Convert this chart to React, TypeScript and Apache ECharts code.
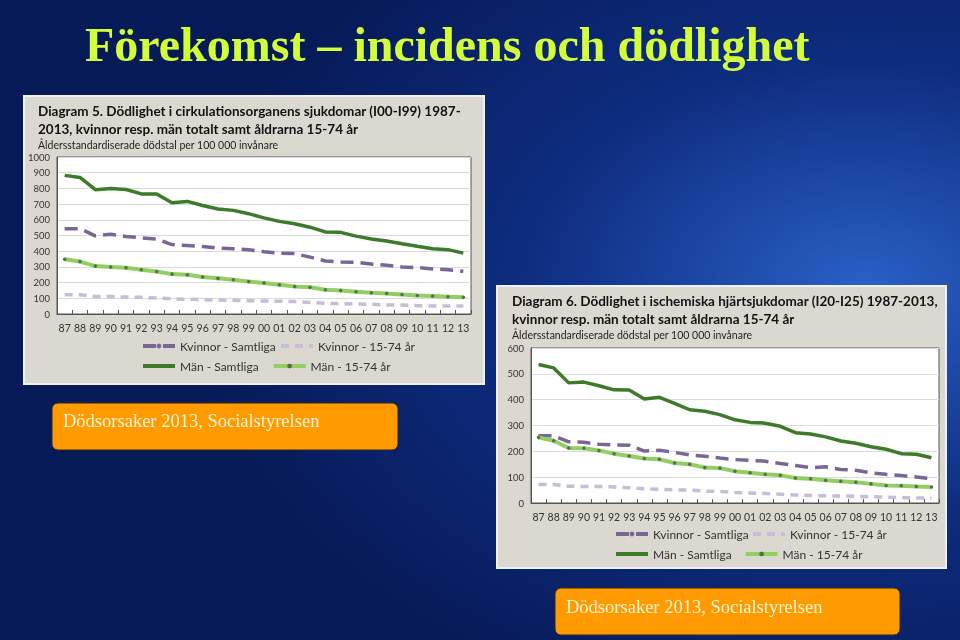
import React, { useEffect, useRef } from "react";
import * as echarts from "echarts";

const years = ["87","88","89","90","91","92","93","94","95","96","97","98","99","00","01","02","03","04","05","06","07","08","09","10","11","12","13"];

// Diagram 5 – cirkulationsorganens sjukdomar
const d5KvinnorSamtliga = [543,543,498,508,494,485,477,442,436,430,420,415,409,397,388,385,362,338,332,330,318,311,299,296,287,282,272];
const d5Kvinnor1574 = [123,123,111,111,108,106,102,96,94,91,89,87,85,83,81,79,74,68,66,64,62,58,57,53,51,51,51];
const d5ManSamtliga = [883,870,792,800,793,765,764,708,717,691,669,660,639,612,590,575,553,523,520,496,478,465,447,431,416,410,388];
const d5Man1574 = [349,334,305,300,294,282,271,254,250,236,227,218,207,197,186,175,171,155,149,142,135,131,124,118,114,110,106];

// Diagram 6 – ischemiska hjärtsjukdomar
const d6KvinnorSamtliga = [260,260,237,235,227,225,224,201,204,196,186,181,174,168,165,162,153,145,137,140,130,127,117,111,106,101,94];
const d6Kvinnor1574 = [72,72,65,64,64,62,59,55,53,51,50,46,45,41,39,37,34,31,29,28,27,26,24,23,21,19,19];
const d6ManSamtliga = [536,523,465,468,454,438,437,403,409,386,361,355,342,322,312,309,297,272,267,256,240,231,218,208,191,189,175];
const d6Man1574 = [254,241,213,212,203,191,182,172,169,155,150,137,135,123,117,111,107,97,94,88,84,80,74,68,67,64,62];

const d5Ticks = { min: 0, max: 1000, interval: 100 };
const d6Ticks = { min: 0, max: 600, interval: 100 };

const NAME_KS = "Kvinnor - Samtliga";
const NAME_K15 = "Kvinnor - 15-74 år";
const NAME_MS = "Män - Samtliga";
const NAME_M15 = "Män - 15-74 år";

const C_KS = "#7a6595";
const C_K15 = "#c9bcd9";
const C_MS = "#3d7a2a";
const C_M15 = "#92cf62";

const FONT = "Lato, 'Noto Sans', sans-serif";

function seriesFor(idx: number, ks: number[], k15: number[], ms: number[], m15: number[]) {
  return [
    { name: NAME_KS, type: "line", xAxisIndex: idx, yAxisIndex: idx, data: ks, symbol: "none", lineStyle: { color: C_KS, width: 3.5, type: [13, 7] }, itemStyle: { color: C_KS }, z: 3 },
    { name: NAME_K15, type: "line", xAxisIndex: idx, yAxisIndex: idx, data: k15, symbol: "none", lineStyle: { color: C_K15, width: 3.5, type: [8, 6] }, itemStyle: { color: C_K15 }, z: 2 },
    { name: NAME_MS, type: "line", xAxisIndex: idx, yAxisIndex: idx, data: ms, symbol: "none", lineStyle: { color: C_MS, width: 3.5 }, itemStyle: { color: C_MS }, z: 4 },
    { name: NAME_M15, type: "line", xAxisIndex: idx, yAxisIndex: idx, data: m15, symbol: "circle", symbolSize: 3.5, lineStyle: { color: C_M15, width: 4 }, itemStyle: { color: "#55704a", borderWidth: 0 }, z: 3 },
  ];
}

function xAxisFor(idx: number) {
  return {
    type: "category",
    gridIndex: idx,
    data: years,
    boundaryGap: true,
    axisLine: { show: true, lineStyle: { color: "#555", width: 1 } },
    axisTick: { show: true, inside: true, length: 4, lineStyle: { color: "#555" } },
    axisLabel: { color: "#333", fontSize: 10.5, fontFamily: FONT, margin: 8, interval: 0 },
  };
}

function yAxisFor(idx: number, t: { min: number; max: number; interval: number }) {
  return {
    type: "value",
    gridIndex: idx,
    min: t.min,
    max: t.max,
    interval: t.interval,
    axisLine: { show: true, lineStyle: { color: "#555", width: 1 } },
    axisTick: { show: false },
    axisLabel: { color: "#333", fontSize: 9.5, fontFamily: FONT, margin: 7, formatter: (v: number) => String(v) },
    splitLine: { show: true, lineStyle: { color: "#dcdcdc", width: 1 } },
  };
}

const dotItem = (name: string) => ({ name, itemStyle: { opacity: 1 } });
const plainItem = (name: string) => ({ name, itemStyle: { opacity: 0 } });

function legendRow(left: number, top: number, items: any[], gap: number) {
  return {
    left,
    top,
    orient: "horizontal",
    data: items,
    itemWidth: 32,
    itemHeight: 6,
    itemGap: gap,
    selectedMode: false,
    lineStyle: { width: 4 },
    textStyle: { color: "#333", fontSize: 12, fontFamily: FONT },
    padding: 0,
  };
}

export default function App() {
  const ref = useRef<HTMLDivElement>(null);
  useEffect(() => {
    if (!ref.current) return;
    const chart = echarts.init(ref.current, null, { renderer: "svg" });
    const option: any = {
      animation: false,
      grid: [
        { left: 57, top: 157, width: 414, height: 157, show: true, backgroundColor: "#ffffff", borderColor: "#555", borderWidth: 1, containLabel: false },
        { left: 531, top: 348, width: 408, height: 155, show: true, backgroundColor: "#ffffff", borderColor: "#555", borderWidth: 1, containLabel: false },
      ],
      xAxis: [xAxisFor(0), xAxisFor(1)],
      yAxis: [yAxisFor(0, d5Ticks), yAxisFor(1, d6Ticks)],
      legend: [
        legendRow(141, 340, [dotItem(NAME_KS), plainItem(NAME_K15)], 3),
        legendRow(141, 360, [plainItem(NAME_MS), dotItem(NAME_M15)], 13),
        legendRow(614, 528, [dotItem(NAME_KS), plainItem(NAME_K15)], 2),
        legendRow(614, 548, [plainItem(NAME_MS), dotItem(NAME_M15)], 12),
      ],
      series: [
        ...seriesFor(0, d5KvinnorSamtliga, d5Kvinnor1574, d5ManSamtliga, d5Man1574),
        ...seriesFor(1, d6KvinnorSamtliga, d6Kvinnor1574, d6ManSamtliga, d6Man1574),
      ],
      graphic: [
        {
          type: "rect", z: -100, silent: true,
          shape: { x: 0, y: 0, width: 960, height: 640 },
          style: {
            fill: new echarts.graphic.RadialGradient(0.9, 0.45, 0.7, [
              { offset: 0, color: "#2a60c6" },
              { offset: 0.5, color: "#0e2d80" },
              { offset: 1, color: "#071a58" },
            ]),
          },
        },
        {
          type: "text", z: 10, x: 85, y: 20, scaleX: 1.0,
          style: { text: "Förekomst – incidens och dödlighet", fill: "#d2ff3a", font: "bold 48px 'Liberation Serif', serif", textVerticalAlign: "top" },
        },
        // Diagram 5 image box
        { type: "rect", z: -50, shape: { x: 24, y: 96, width: 460, height: 288 }, style: { fill: "#dbd9cf", stroke: "#eef2f6", lineWidth: 2 } },
        { type: "text", z: 10, x: 38, y: 104, style: { text: "Diagram 5. Dödlighet i cirkulationsorganens sjukdomar (I00-I99) 1987-", fill: "#111", font: `bold 13.5px ${FONT}` } },
        { type: "text", z: 10, x: 38, y: 122, style: { text: "2013, kvinnor resp. män totalt samt åldrarna 15-74 år", fill: "#111", font: `bold 13.5px ${FONT}` } },
        { type: "text", z: 10, x: 38, y: 139, style: { text: "Åldersstandardiserade dödstal per 100 000 invånare", fill: "#222", font: `10.5px ${FONT}` } },
        // Diagram 6 image box
        { type: "rect", z: -50, shape: { x: 497, y: 286, width: 449, height: 282 }, style: { fill: "#dbd9cf", stroke: "#eef2f6", lineWidth: 2 } },
        { type: "text", z: 10, x: 512, y: 294, style: { text: "Diagram 6. Dödlighet i ischemiska hjärtsjukdomar (I20-I25) 1987-2013,", fill: "#111", font: `bold 13.5px ${FONT}` } },
        { type: "text", z: 10, x: 512, y: 312, style: { text: "kvinnor resp. män totalt samt åldrarna 15-74 år", fill: "#111", font: `bold 13.5px ${FONT}` } },
        { type: "text", z: 10, x: 512, y: 329, style: { text: "Åldersstandardiserade dödstal per 100 000 invånare", fill: "#222", font: `10.5px ${FONT}` } },
        // Source boxes
        { type: "rect", z: 5, shape: { x: 52, y: 403, width: 346, height: 47, r: 6 }, style: { fill: "#ff9a00", stroke: "#2a2a2a", lineWidth: 1 } },
        { type: "text", z: 10, x: 63, y: 421, style: { text: "Dödsorsaker 2013, Socialstyrelsen", fill: "#fff7d8", font: "18.5px 'Liberation Serif', serif", textVerticalAlign: "middle" } },
        { type: "rect", z: 5, shape: { x: 555, y: 588, width: 345, height: 47, r: 6 }, style: { fill: "#ff9a00", stroke: "#2a2a2a", lineWidth: 1 } },
        { type: "text", z: 10, x: 566, y: 607, style: { text: "Dödsorsaker 2013, Socialstyrelsen", fill: "#fff7d8", font: "18.5px 'Liberation Serif', serif", textVerticalAlign: "middle" } },
      ],
    };
    chart.setOption(option);
    return () => chart.dispose();
  }, []);
  return <div ref={ref} style={{ position: "fixed", left: 0, top: 0, width: 960, height: 640 }} />;
}
